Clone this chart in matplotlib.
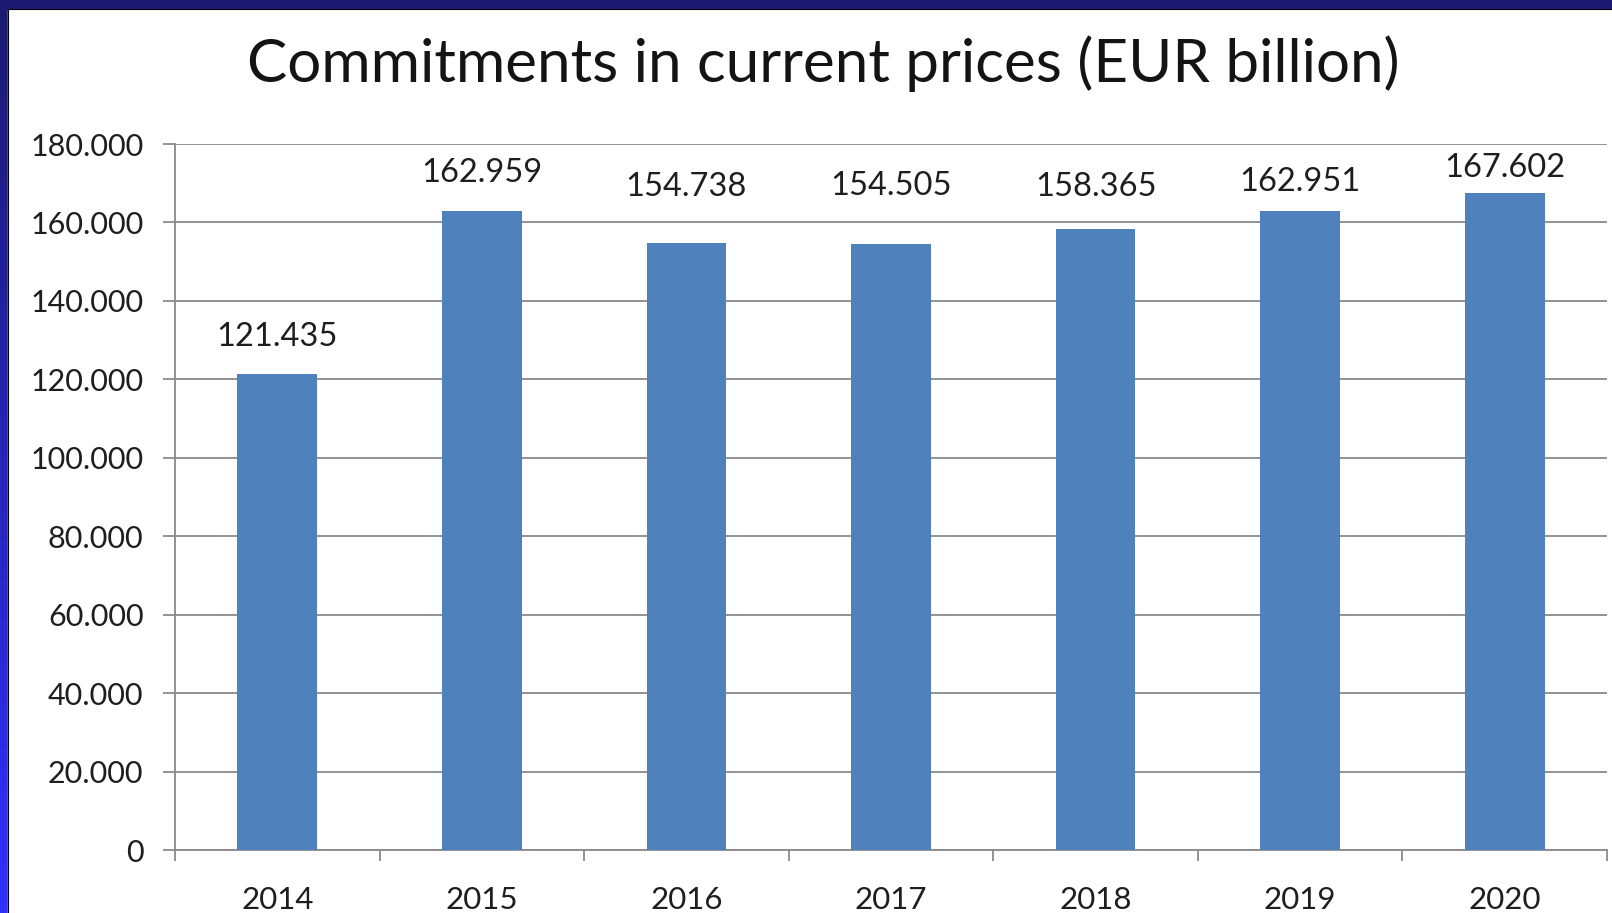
import matplotlib
matplotlib.use('Agg')
import matplotlib.pyplot as plt
import numpy as np
from matplotlib.patches import Rectangle
from matplotlib.ticker import FuncFormatter, FixedLocator

# ---- data ----
years = ['2014', '2015', '2016', '2017', '2018', '2019', '2020']
commitments = [121435, 162959, 154738, 154505, 158365, 162951, 167602]
y_ticks = [0, 20000, 40000, 60000, 80000, 100000, 120000, 140000, 160000, 180000]
title = 'Commitments in current prices (EUR billion)'

# label placement (points above bar top), as placed in the original
label_offsets_pt = [20, 21, 34, 35, 24, 14, 11]

W, H = 1612, 913
plt.rcParams['font.family'] = ['Lato', 'DejaVu Sans']
fig = plt.figure(figsize=(W / 100, H / 100), dpi=100)


def fmt(v, pos=None):
    return f"{v:,.0f}".replace(',', '.')


# ---- background frame ----
bg = fig.add_axes([0, 0, 1, 1], zorder=-5)
t = np.linspace(0, 1, 256).reshape(-1, 1, 1)
c_top = np.array([27, 26, 112]) / 255
c_bot = np.array([48, 48, 255]) / 255
grad = c_top + (c_bot - c_top) * t
bg.imshow(grad, extent=[0, 8, H, 0], aspect='auto', interpolation='bilinear')
bg.add_patch(Rectangle((0, 0), W, 9, color='#1b1a70'))
bg.add_patch(Rectangle((8, 10), W - 8, H - 10, color='white'))
bg.plot([7.5, 7.5], [9.5, H], color='black', lw=0.8)
bg.plot([7.5, W], [9.5, 9.5], color='black', lw=0.8)
bg.set_xlim(0, W)
bg.set_ylim(H, 0)
bg.axis('off')

# ---- main chart ----
left, right, top, bottom = 175, 1607, 144, 850
ax = fig.add_axes([left / W, 1 - bottom / H, (right - left) / W, (bottom - top) / H])
ax.set_facecolor('white')

x = np.arange(len(years))
ax.bar(x, commitments, width=0.39, color='#4F81BD', zorder=3)
ax.set_xlim(-0.5, len(years) - 0.5)
ax.set_ylim(0, 180000)

grid_c = '#8a8a8a'
text_c = '#1e1e1e'
ax.set_yticks(y_ticks)
ax.yaxis.set_major_formatter(FuncFormatter(fmt))
ax.yaxis.grid(True, color=grid_c, lw=1.3, zorder=0)
ax.set_axisbelow(True)
for s in ['top', 'right']:
    ax.spines[s].set_visible(False)
for s in ['left', 'bottom']:
    ax.spines[s].set_color(grid_c)
    ax.spines[s].set_linewidth(1.3)

ax.tick_params(axis='y', direction='out', length=8.6, width=1.3, color=grid_c,
               labelsize=22, pad=14, labelcolor=text_c)
ax.set_xticks(x)
ax.set_xticklabels(years)
ax.tick_params(axis='x', which='major', length=0, labelsize=22.5, pad=26,
               labelcolor=text_c)
ax.xaxis.set_minor_locator(FixedLocator(np.arange(-0.5, len(years), 1.0)))
ax.tick_params(axis='x', which='minor', direction='out', length=8, width=1.3,
               color=grid_c)

for i, v in enumerate(commitments):
    ax.annotate(fmt(v), (i, v), xytext=(0, label_offsets_pt[i]),
                textcoords='offset points', ha='center', va='baseline',
                fontsize=23.5, color=text_c, zorder=5)

fig.text(823.5 / W, 1 - 82 / H, title, ha='center', va='baseline',
         fontsize=43.3, color='#141414')

fig.savefig('out.png', dpi=100)
